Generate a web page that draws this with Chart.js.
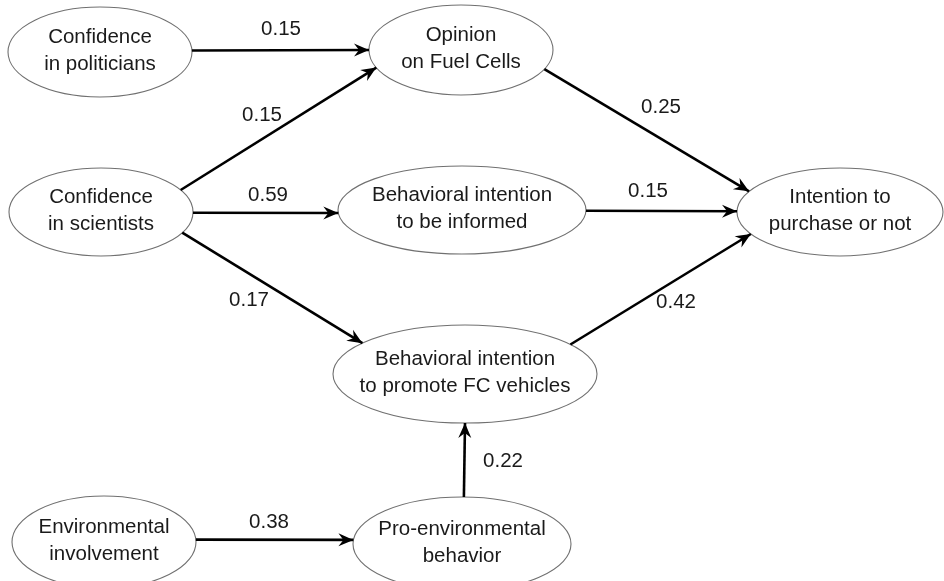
<!DOCTYPE html>
<html>
<head>
<meta charset="utf-8">
<script src="https://cdn.jsdelivr.net/npm/chart.js@4.4.1/dist/chart.umd.min.js"></script>
<style>
  html, body { margin: 0; padding: 0; background: #fff; }
  #wrap { width: 944px; height: 581px; }
</style>
</head>
<body>
<div id="wrap"><canvas id="c" width="944" height="581"></canvas></div>
<script>
// constructs (two text lines each)
const nodeLabels = [
  ["Confidence", "in politicians"],
  ["Opinion", "on Fuel Cells"],
  ["Confidence", "in scientists"],
  ["Behavioral intention", "to be informed"],
  ["Intention to", "purchase or not"],
  ["Behavioral intention", "to promote FC vehicles"],
  ["Environmental", "involvement"],
  ["Pro-environmental", "behavior"]
];
// paths: from -> to, with standardized coefficients
const pathFrom = [0, 2, 2, 2, 1, 3, 5, 6, 7];
const pathTo = [1, 1, 3, 5, 4, 4, 4, 7, 5];
const pathCoefficients = [0.15, 0.15, 0.59, 0.17, 0.25, 0.15, 0.42, 0.38, 0.22];

// layout, in a 944 x 581 coordinate space: [cx, cy, rx, ry]
const nodeBox = [
  [100, 52, 92, 45],
  [461, 50, 92, 45],
  [101, 212, 92, 44],
  [462, 210, 124, 44],
  [840, 212, 103, 44],
  [465, 374, 132, 49],
  [104, 542, 92, 46],
  [462, 544, 109, 47]
];
// where each path leaves / enters its ellipse (degrees, y down)
const portAngles = [
  [-2, 180], [-30, 157], [1, 176], [28, -141], [25, -152],
  [1, 181], [-37, 150], [-3, 185], [-89, 90]
];
const labelAt = [
  [281, 29], [262, 115], [268, 195], [249, 300], [661, 107],
  [648, 191], [676, 302], [269, 522], [503, 461]
];

const FONT = '20.5px "Liberation Sans", Arial, sans-serif';

function portPoint(node, deg) {
  const [cx, cy, rx, ry] = nodeBox[node];
  const a = deg * Math.PI / 180;
  return { x: cx + rx * Math.cos(a), y: cy + ry * Math.sin(a) };
}

const pathDatasets = pathCoefficients.map((v, i) => ({
  label: nodeLabels[pathFrom[i]].join(" ") + " -> " + nodeLabels[pathTo[i]].join(" "),
  data: [portPoint(pathFrom[i], portAngles[i][0]), portPoint(pathTo[i], portAngles[i][1])],
  showLine: true,
  borderColor: "#000",
  borderWidth: 2.6,
  pointRadius: 0,
  fill: false
}));

const diagramPlugin = {
  id: "diagram",
  beforeDatasetsDraw(chart) {
    const { ctx, scales: { x, y } } = chart;
    ctx.save();
    nodeBox.forEach(([cx, cy, rx, ry], i) => {
      const px = x.getPixelForValue(cx), py = y.getPixelForValue(cy);
      const prx = Math.abs(x.getPixelForValue(cx + rx) - px);
      const pry = Math.abs(y.getPixelForValue(cy + ry) - py);
      ctx.beginPath();
      ctx.ellipse(px, py, prx, pry, 0, 0, Math.PI * 2);
      ctx.fillStyle = "#fff";
      ctx.fill();
      ctx.lineWidth = 1.1;
      ctx.strokeStyle = "#707070";
      ctx.stroke();
      ctx.fillStyle = "#1a1a1a";
      ctx.font = FONT;
      ctx.textAlign = "center";
      ctx.textBaseline = "middle";
      ctx.fillText(nodeLabels[i][0], px, py - 15);
      ctx.fillText(nodeLabels[i][1], px, py + 12);
    });
    ctx.restore();
  },
  afterDatasetsDraw(chart) {
    const { ctx, scales: { x, y } } = chart;
    ctx.save();
    chart.data.datasets.forEach((ds, i) => {
      const a = ds.data[0], b = ds.data[1];
      const ax = x.getPixelForValue(a.x), ay = y.getPixelForValue(a.y);
      const bx = x.getPixelForValue(b.x), by = y.getPixelForValue(b.y);
      const ang = Math.atan2(by - ay, bx - ax);
      ctx.save();
      ctx.translate(bx, by);
      ctx.rotate(ang);
      ctx.beginPath();
      ctx.moveTo(0, 0);
      ctx.lineTo(-15, -6.5);
      ctx.lineTo(-10, 0);
      ctx.lineTo(-15, 6.5);
      ctx.closePath();
      ctx.fillStyle = "#000";
      ctx.fill();
      ctx.restore();
      // coefficient label
      ctx.fillStyle = "#1a1a1a";
      ctx.font = FONT;
      ctx.textAlign = "center";
      ctx.textBaseline = "middle";
      ctx.fillText(pathCoefficients[i].toFixed(2),
        x.getPixelForValue(labelAt[i][0]), y.getPixelForValue(labelAt[i][1]));
    });
    ctx.restore();
  }
};

new Chart(document.getElementById("c"), {
  type: "scatter",
  data: { datasets: pathDatasets },
  options: {
    responsive: false,
    animation: false,
    layout: { padding: 0 },
    scales: {
      x: { type: "linear", min: 0, max: 944, display: false },
      y: { type: "linear", min: 0, max: 581, reverse: true, display: false }
    },
    plugins: { legend: { display: false }, tooltip: { enabled: false } }
  },
  plugins: [diagramPlugin]
});
</script>
</body>
</html>
